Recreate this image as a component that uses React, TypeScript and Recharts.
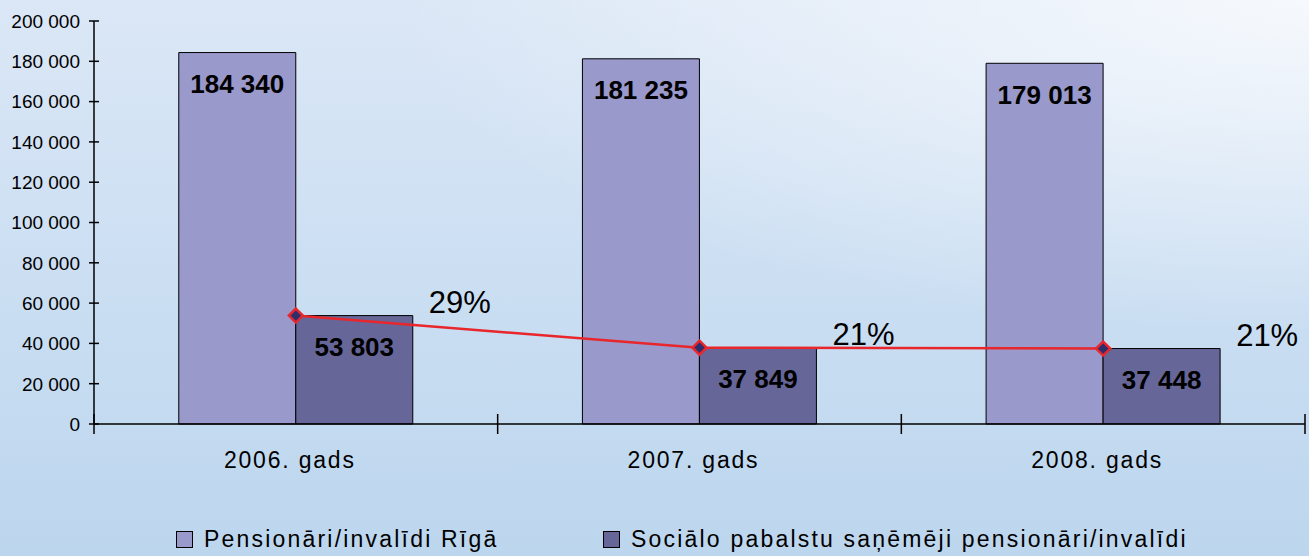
import * as React from "react";
import {
  ComposedChart,
  Bar,
  Line,
  XAxis,
  YAxis,
  LabelList,
  Legend,
} from "recharts";

const years = ["2006. gads", "2007. gads", "2008. gads"];
const pensioners = [184340, 181235, 179013];
const recipients = [53803, 37849, 37448];
const shares = ["29%", "21%", "21%"];
const yTicks = [0, 20000, 40000, 60000, 80000, 100000, 120000, 140000, 160000, 180000, 200000];

const seriesNames = [
  "Pensionāri/invalīdi Rīgā",
  "Sociālo pabalstu saņēmēji pensionāri/invalīdi",
];

const data = years.map((year, i) => ({
  year,
  pensioners: pensioners[i],
  recipients: recipients[i],
  share: shares[i],
}));

const W = 1309;
const H = 556;
const PLOT_LEFT = 94;
const PLOT_RIGHT = 1305;
const PLOT_TOP = 21;
const PLOT_BOTTOM = 424;
const BAND = (PLOT_RIGHT - PLOT_LEFT) / years.length;

const FONT = "'Liberation Sans', Arial, sans-serif";
const LIGHT = "#9999cc";
const DARK = "#666699";
const RED = "#e8262b";

const fmt = (v: number) => String(v).replace(/\B(?=(\d{3})+(?!\d))/g, " ");

function YTick(props: any) {
  const { y, payload } = props;
  return (
    <g>
      <line x1={PLOT_LEFT - 5} x2={PLOT_LEFT + 5} y1={y} y2={y} stroke="#000" strokeWidth={1.5} />
      <text
        x={PLOT_LEFT - 14}
        y={y}
        dy="0.36em"
        textAnchor="end"
        fontFamily={FONT}
        fontSize={19}
        fill="#000"
      >
        {fmt(payload.value)}
      </text>
    </g>
  );
}

function XTick(props: any) {
  const { x, payload, index } = props;
  const left = x - BAND / 2;
  const right = x + BAND / 2;
  return (
    <g>
      <line x1={left} x2={left} y1={PLOT_BOTTOM - 10} y2={PLOT_BOTTOM + 10} stroke="#000" strokeWidth={1.5} />
      {index === years.length - 1 && (
        <line x1={right} x2={right} y1={PLOT_BOTTOM - 10} y2={PLOT_BOTTOM + 10} stroke="#000" strokeWidth={1.5} />
      )}
      <text
        x={x - 6}
        y={PLOT_BOTTOM + 44}
        textAnchor="middle"
        fontFamily={FONT}
        fontSize={23}
        letterSpacing={1.8}
        fill="#000"
      >
        {payload.value}
      </text>
    </g>
  );
}

function Diamond(props: any) {
  const { cx, cy } = props;
  if (cx == null || cy == null) return null;
  const r = 7;
  return (
    <polygon
      points={`${cx},${cy - r} ${cx + r},${cy} ${cx},${cy + r} ${cx - r},${cy}`}
      fill="#2e2e6b"
      stroke={RED}
      strokeWidth={2.5}
    />
  );
}

function ShareLabel(props: any) {
  const { x, y, value } = props;
  return (
    <text
      x={x + 164}
      y={y - 3}
      textAnchor="middle"
      fontFamily={FONT}
      fontSize={31}
      fill="#000"
    >
      {value}
    </text>
  );
}

function LegendBox() {
  const colors = [LIGHT, DARK];
  const lefts = [176, 603];
  return (
    <div style={{ position: "relative", width: W, height: 30 }}>
      {seriesNames.map((name, i) => (
        <div
          key={name}
          style={{
            position: "absolute",
            left: lefts[i],
            top: 0,
            height: 30,
            display: "flex",
            alignItems: "center",
            fontFamily: FONT,
            fontSize: 23,
            letterSpacing: 2.2,
            color: "#000",
            whiteSpace: "nowrap",
          }}
        >
          <span
            style={{
              display: "inline-block",
              width: 15,
              height: 15,
              background: colors[i],
              border: "1.5px solid #000",
              marginRight: 11,
            }}
          />
          {name}
        </div>
      ))}
    </div>
  );
}

export default function App() {
  return (
    <div
      style={{
        position: "absolute",
        left: 0,
        top: 0,
        width: W,
        height: H,
        overflow: "hidden",
        background:
          "radial-gradient(ellipse 70% 60% at 100% 0%, rgba(255,255,255,0.75) 0%, rgba(255,255,255,0) 100%), linear-gradient(to bottom, #dbe7f6 0%, #cadef2 55%, #bcd6ee 100%)",
      }}
    >
      <ComposedChart
        width={W}
        height={H}
        data={data}
        margin={{ top: PLOT_TOP, right: W - PLOT_RIGHT, bottom: 2, left: 0 }}
        barCategoryGap="21%"
        barGap={0}
      >
        <XAxis
          dataKey="year"
          height={100}
          axisLine={{ stroke: "#000", strokeWidth: 1.5 }}
          tickLine={false}
          tick={<XTick />}
          interval={0}
        />
        <YAxis
          width={PLOT_LEFT}
          domain={[0, 200000]}
          ticks={yTicks}
          axisLine={{ stroke: "#000", strokeWidth: 1.5 }}
          tickLine={false}
          tick={<YTick />}
          interval={0}
        />
        <Legend
          verticalAlign="bottom"
          height={30}
          wrapperStyle={{ left: 0, width: W }}
          content={() => <LegendBox />}
        />
        <Bar dataKey="pensioners" fill={LIGHT} stroke="#000" strokeWidth={1} isAnimationActive={false}>
          <LabelList
            dataKey="pensioners"
            position="insideTop"
            offset={22}
            formatter={(v: any) => fmt(v)}
            style={{ fontFamily: FONT, fontSize: 26, fontWeight: "bold", fill: "#000" }}
          />
        </Bar>
        <Bar dataKey="recipients" fill={DARK} stroke="#000" strokeWidth={1} isAnimationActive={false}>
          <LabelList
            dataKey="recipients"
            position="insideTop"
            offset={22}
            formatter={(v: any) => fmt(v)}
            style={{ fontFamily: FONT, fontSize: 26, fontWeight: "bold", fill: "#000" }}
          />
        </Bar>
        <Line
          type="linear"
          dataKey="recipients"
          stroke={RED}
          strokeWidth={2.5}
          dot={<Diamond />}
          activeDot={false}
          isAnimationActive={false}
        >
          <LabelList dataKey="share" content={<ShareLabel />} />
        </Line>
      </ComposedChart>
    </div>
  );
}
